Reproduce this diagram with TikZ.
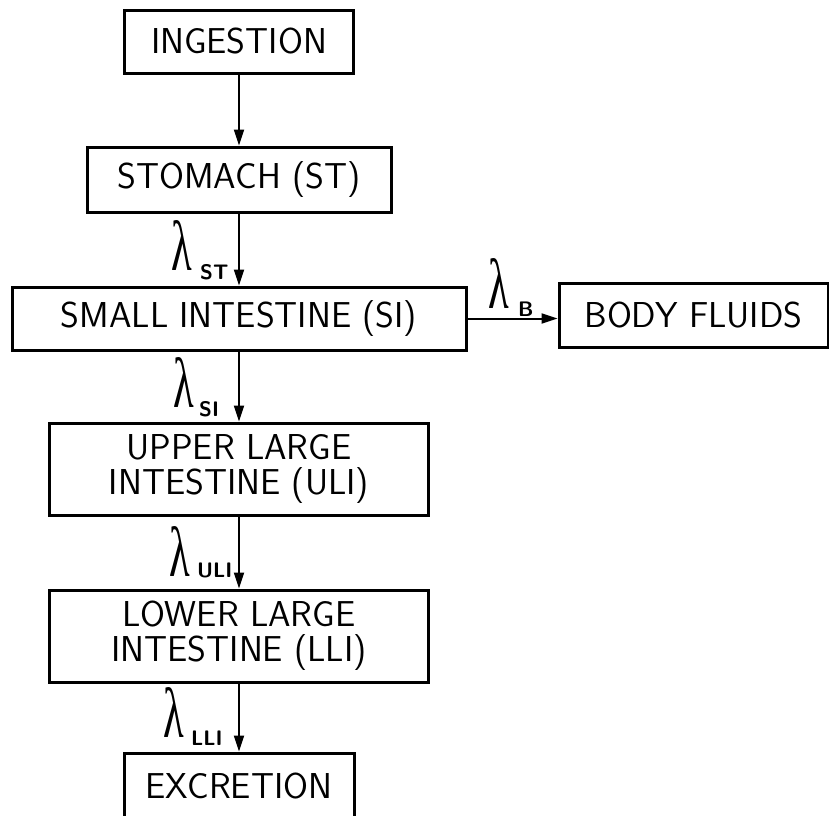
\documentclass[tikz,border=0pt]{standalone}
\usepackage{fontspec}
\usetikzlibrary{arrows.meta}
\newfontfamily\lamfam{Liberation Serif}
\newcommand\labfont{\sffamily\fontsize{36}{35}\selectfont}
\newcommand\mysubfont{\sffamily\bfseries\fontsize{21}{21}\selectfont}
\newcommand\lamfont{\lamfam\fontsize{71}{71}\selectfont}
\newcommand\lam{\scalebox{0.6}[1]{λ}}
\tikzset{
  box/.style={draw, line width=3pt, inner sep=0pt, font=\labfont, align=center},
  flow/.style={line width=2pt, -{Triangle[length=16pt,width=10pt]}},
  lamlab/.style={inner sep=0pt, anchor=south west, font=\lamfont},
  sublab/.style={inner sep=0pt, anchor=south west, font=\mysubfont}
}
\begin{document}
\begin{tikzpicture}[x=1pt,y=-1pt]
\clip (0,0) rectangle (829,815);
\fill[white] (0,0) rectangle (829,815);
% boxes
\node[box, minimum width=229pt, minimum height=63pt] (ing) at (239,41.5) {INGESTION};
\node[box, minimum width=304pt, minimum height=65pt] (st) at (239,179.5) {STOMACH (ST)};
\node[box, minimum width=454pt, minimum height=63pt] (si) at (239,318.5) {SMALL INTESTINE (SI)};
\node[box, minimum width=269pt, minimum height=64pt] (bf) at (693.5,315) {BODY FLUIDS};
\node[box, minimum width=379pt, minimum height=92pt] (uli) at (239,469) {UPPER LARGE\\INTESTINE (ULI)};
\node[box, minimum width=379pt, minimum height=92pt] (lli) at (239,636) {LOWER LARGE\\INTESTINE (LLI)};
\node[box, minimum width=230pt, minimum height=66pt] (exc) at (239,786) {EXCRETION};
% connectors
\draw[flow] (ing) -- (st);
\draw[flow] (st) -- (si);
\draw[flow] (si) -- (uli);
\draw[flow] (uli) -- (lli);
\draw[flow] (lli) -- (exc);
\draw[flow] (si.east) -- (si.east -| bf.west);
% rate labels
\node[lamlab] (lst) at (171,271) {\lam};
\node[sublab] (lstsub) at (200,280) {ST};
\node[lamlab] (lb) at (488,309) {\lam};
\node[sublab] (lbsub) at (518,317) {B};
\node[lamlab] (lsi) at (173,408) {\lam};
\node[sublab] (lsisub) at (199,417) {SI};
\node[lamlab] (luli) at (169,577) {\lam};
\node[sublab] (lulisub) at (197,578) {ULI};
\node[lamlab] (llli) at (163,738) {\lam};
\node[sublab] (llisub) at (191,746) {LLI};
\end{tikzpicture}
\end{document}
